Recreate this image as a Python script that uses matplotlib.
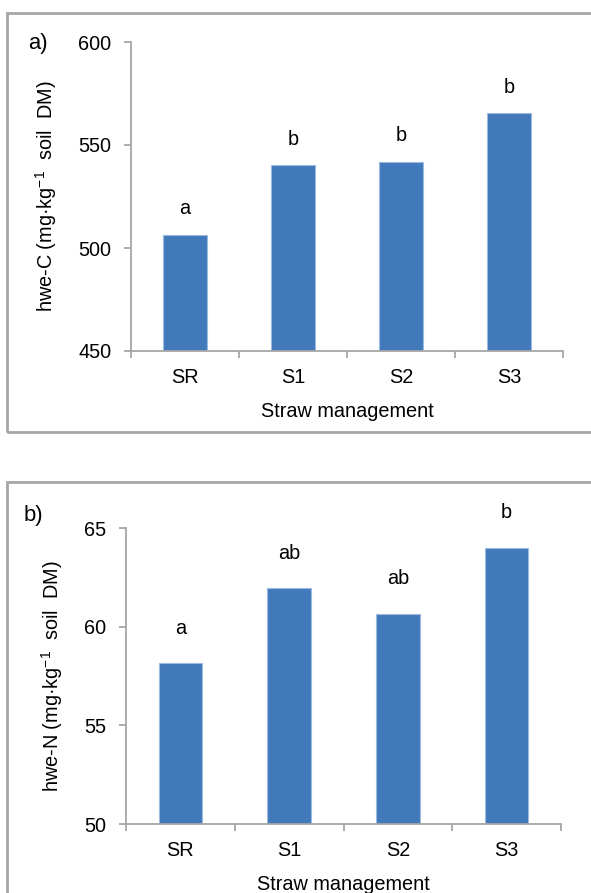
import numpy as np
import matplotlib
matplotlib.use('Agg')
import matplotlib.pyplot as plt
from matplotlib.patches import Rectangle

plt.rcParams['font.family'] = ['Liberation Sans', 'DejaVu Sans']
plt.rcParams['mathtext.fontset'] = 'custom'
plt.rcParams['mathtext.rm'] = 'Liberation Sans'

categories = ['SR', 'S1', 'S2', 'S3']
hwe_c = [506.5, 540.2, 541.8, 565.3]
hwe_c_letters = ['a', 'b', 'b', 'b']
hwe_n = [58.15, 61.95, 60.65, 63.98]
hwe_n_letters = ['a', 'ab', 'ab', 'b']

W, H = 591, 893
fig = plt.figure(figsize=(W / 100, H / 100), dpi=100)

bar_color = '#4279BB'
edge_color = '#9DBBE0'
axis_color = '#A6A6A6'
fs = 14.3


def fx(px):
    return px / W


def fy(py):
    return 1 - py / H


# panel frames
for top, bottom in [(13, 432), (482, 905)]:
    fig.patches.append(Rectangle((fx(7), fy(bottom)), fx(600) - fx(7), fy(top) - fy(bottom),
                                 transform=fig.transFigure, fill=False,
                                 edgecolor=axis_color, linewidth=2.0, zorder=0))


def draw_panel(rect, values, letters, ylim, yticks, ylabel, panel_label, lab_pos, off):
    ax = fig.add_axes(rect)
    x = np.arange(len(categories))
    ax.bar(x, values, width=0.4, color=bar_color, edgecolor=edge_color, linewidth=0.8, zorder=2)
    for xi, v, l in zip(x, values, letters):
        ax.text(xi, v + off, l, ha='center', va='bottom', fontsize=fs)
    ax.set_xlim(-0.5, len(categories) - 0.5)
    ax.set_ylim(*ylim)
    ax.set_yticks(yticks)
    ax.set_xticks(np.arange(-0.5, len(categories)), minor=False)
    ax.set_xticklabels([])
    ax.set_xticks(x, minor=True)
    ax.set_xticklabels(categories, minor=True, fontsize=fs)
    ax.tick_params(axis='x', which='minor', length=0, pad=12)
    ax.tick_params(axis='x', which='major', length=5, color=axis_color, width=1.3, direction='out')
    ax.tick_params(axis='y', length=5, color=axis_color, width=1.3, labelsize=fs, pad=9)
    for s in ['top', 'right']:
        ax.spines[s].set_visible(False)
    for s in ['left', 'bottom']:
        ax.spines[s].set_color(axis_color)
        ax.spines[s].set_linewidth(1.3)
    ax.set_xlabel('Straw management', fontsize=fs, labelpad=11)
    ax.set_ylabel(ylabel, fontsize=fs, labelpad=14)
    fig.text(lab_pos[0], lab_pos[1], panel_label, fontsize=fs + 1.5, ha='left', va='center')
    return ax


draw_panel([fx(131), fy(351), fx(563) - fx(131), fy(42) - fy(351)],
           hwe_c, hwe_c_letters, (450, 600), [450, 500, 550, 600],
           r'hwe-C (mg·kg$^{-1}$  soil  DM)', 'a)', (fx(28), fy(43)), 8)

draw_panel([fx(126), fy(824), fx(561) - fx(126), fy(528) - fy(824)],
           hwe_n, hwe_n_letters, (50, 65), [50, 55, 60, 65],
           r'hwe-N (mg·kg$^{-1}$  soil  DM)', 'b)', (fx(24), fy(515)), 1.3)

fig.savefig('out.png', dpi=100)
